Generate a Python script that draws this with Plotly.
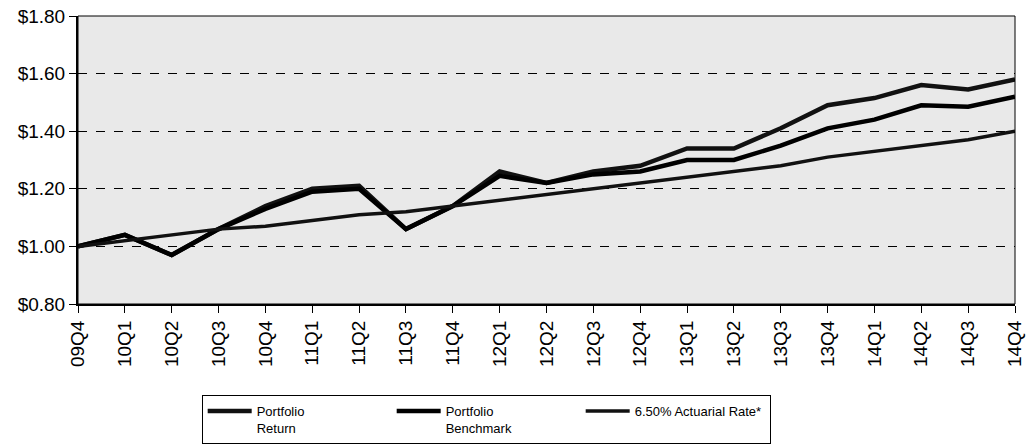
import plotly.graph_objects as go

quarters = ["09Q4", "10Q1", "10Q2", "10Q3", "10Q4", "11Q1", "11Q2", "11Q3", "11Q4",
            "12Q1", "12Q2", "12Q3", "12Q4", "13Q1", "13Q2", "13Q3", "13Q4",
            "14Q1", "14Q2", "14Q3", "14Q4"]
portfolio_return = [1.00, 1.04, 0.97, 1.06, 1.14, 1.20, 1.21, 1.06, 1.14, 1.26, 1.22,
                    1.26, 1.28, 1.34, 1.34, 1.41, 1.49, 1.515, 1.56, 1.545, 1.58]
portfolio_benchmark = [1.00, 1.04, 0.97, 1.06, 1.13, 1.19, 1.20, 1.06, 1.14, 1.245, 1.22,
                       1.25, 1.26, 1.30, 1.30, 1.35, 1.41, 1.44, 1.49, 1.485, 1.52]
actuarial_rate = [1.00, 1.02, 1.04, 1.06, 1.07, 1.09, 1.11, 1.12, 1.14, 1.16, 1.18,
                  1.20, 1.22, 1.24, 1.26, 1.28, 1.31, 1.33, 1.35, 1.37, 1.40]
y_ticks = [0.80, 1.00, 1.20, 1.40, 1.60, 1.80]
y_tick_labels = ["$0.80", "$1.00", "$1.20", "$1.40", "$1.60", "$1.80"]
series_names = ["Portfolio<br>Return", "Portfolio<br>Benchmark", "6.50% Actuarial Rate*"]

fig = go.Figure()
fig.add_trace(go.Scatter(x=quarters, y=portfolio_return, mode="lines", name=series_names[0],
                         line=dict(color="#111111", width=4.5)))
fig.add_trace(go.Scatter(x=quarters, y=portfolio_benchmark, mode="lines", name=series_names[1],
                         line=dict(color="#000000", width=4.5)))
fig.add_trace(go.Scatter(x=quarters, y=actuarial_rate, mode="lines", name=series_names[2],
                         line=dict(color="#111111", width=3.5)))

fig.update_layout(
    width=1026, height=446,
    margin=dict(l=78, r=11, t=16, b=142),
    paper_bgcolor="white",
    plot_bgcolor="#e9e9e9",
    font=dict(family="Liberation Sans, Arial", color="black"),
    showlegend=True,
    legend=dict(
        orientation="h",
        xref="paper", x=0.132, xanchor="left",
        yref="container", y=1 - 395 / 446, yanchor="top",
        bordercolor="black", borderwidth=1,
        bgcolor="white",
        font=dict(size=13, color="black"),
        entrywidth=130,
        valign="top",
        itemwidth=44,
        tracegroupgap=0,
    ),
    shapes=[dict(type="rect", xref="paper", yref="paper", x0=0, x1=1, y0=0, y1=1,
                 line=dict(color="black", width=1), layer="above")],
)

fig.update_xaxes(
    type="category",
    range=[0, len(quarters) - 1],
    tickangle=-90,
    tickfont=dict(size=19, color="black"),
    ticks="outside", ticklen=7, tickcolor="black", tickwidth=1,
    showline=True, linecolor="black", linewidth=2,
    showgrid=False, zeroline=False, automargin=False,
)
fig.update_yaxes(
    range=[0.80, 1.80],
    tickvals=y_ticks, ticktext=y_tick_labels,
    tickfont=dict(size=19, color="black"),
    ticks="outside", ticklen=7, tickcolor="black", tickwidth=1,
    showline=True, linecolor="black", linewidth=2,
    showgrid=True, gridcolor="black", gridwidth=1, griddash="dash",
    zeroline=False, automargin=False,
)

fig.write_html("out.html", config={"displayModeBar": False},
               post_script="document.body.style.margin='0';")
